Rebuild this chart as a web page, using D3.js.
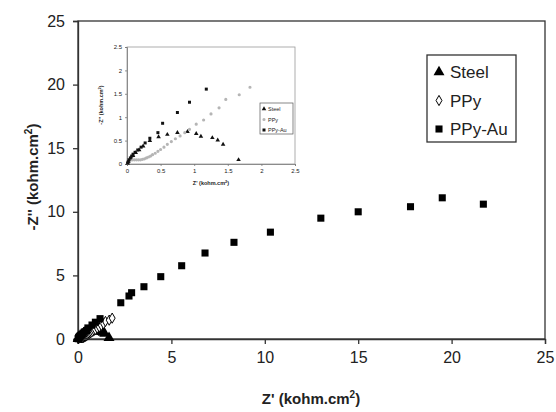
<!DOCTYPE html>
<html>
<head>
<meta charset="utf-8">
<script src="https://cdn.jsdelivr.net/npm/d3@7"></script>
<style>
  body { margin: 0; background: #fff; }
  text { font-family: "Liberation Sans", Arial, sans-serif; fill: #222; }
</style>
</head>
<body>
<div id="chart"></div>
<script>
// Nyquist data, Z' and -Z'' in kohm.cm2
const steelZre = [0.01, 0.02, 0.04, 0.06, 0.09, 0.13, 0.18, 0.24, 0.34, 0.47, 0.60, 0.75, 0.90, 1.03, 1.10, 1.27, 1.35, 1.43, 1.66];
const steelZim = [0.02, 0.05, 0.09, 0.13, 0.18, 0.24, 0.30, 0.38, 0.50, 0.58, 0.63, 0.67, 0.69, 0.65, 0.59, 0.56, 0.51, 0.42, 0.09];

const ppyZre = [0.01, 0.02, 0.04, 0.06, 0.08, 0.11, 0.14, 0.17, 0.20, 0.23, 0.26, 0.29, 0.32, 0.35, 0.38, 0.42, 0.46, 0.50, 0.55, 0.60, 0.66, 0.72, 0.79, 0.86, 0.93, 1.03, 1.14, 1.25, 1.37, 1.47, 1.67, 1.83];
const ppyZim = [0.02, 0.05, 0.08, 0.09, 0.09, 0.09, 0.09, 0.09, 0.09, 0.10, 0.11, 0.13, 0.15, 0.17, 0.20, 0.23, 0.27, 0.31, 0.36, 0.42, 0.48, 0.54, 0.60, 0.67, 0.74, 0.85, 0.94, 1.07, 1.20, 1.38, 1.48, 1.64];

const ppyAuZre = [0.01, 0.02, 0.03, 0.05, 0.07, 0.09, 0.12, 0.16, 0.21, 0.27, 0.34, 0.46, 0.53, 0.75, 0.93, 1.18, 2.29, 2.73, 2.87, 3.53, 4.43, 5.55, 6.80, 8.35, 10.3, 13.0, 15.0, 17.8, 19.5, 21.7];
const ppyAuZim = [0.02, 0.05, 0.09, 0.13, 0.17, 0.21, 0.25, 0.30, 0.36, 0.45, 0.55, 0.67, 0.87, 1.10, 1.32, 1.60, 2.85, 3.38, 3.64, 4.11, 4.90, 5.76, 6.76, 7.60, 8.40, 9.50, 10.0, 10.4, 11.1, 10.6];

const seriesNames = ["Steel", "PPy", "PPy-Au"];
const mainTicks = [0, 5, 10, 15, 20, 25];
const insetTicks = [0, 0.5, 1, 1.5, 2, 2.5];

const W = 556, H = 412;
const svg = d3.select("#chart").append("svg").attr("width", W).attr("height", H);

function zip(xs, ys) { return xs.map((x, i) => ({x: x, y: ys[i]})); }
const series = [
  {name: seriesNames[0], pts: zip(steelZre, steelZim), shape: d3.symbolTriangle},
  {name: seriesNames[1], pts: zip(ppyZre, ppyZim), shape: d3.symbolDiamond},
  {name: seriesNames[2], pts: zip(ppyAuZre, ppyAuZim), shape: d3.symbolSquare}
];

// ---- main plot ----
const x = d3.scaleLinear().domain([0, 25]).range([78, 545]);
const y = d3.scaleLinear().domain([0, 25]).range([339, 21]);

const main = svg.append("g");
main.append("rect").attr("x", 78).attr("y", 21).attr("width", 545 - 78).attr("height", 339 - 21)
  .attr("fill", "none").attr("stroke", "#333").attr("stroke-width", 1.3);

const xAxis = main.append("g").attr("transform", "translate(0,339)")
  .call(d3.axisBottom(x).tickValues(mainTicks).tickSize(5).tickPadding(8));
const yAxis = main.append("g").attr("transform", "translate(78,0)")
  .call(d3.axisLeft(y).tickValues(mainTicks).tickSize(5).tickPadding(8));
[xAxis, yAxis].forEach(a => {
  a.selectAll("path, line").attr("stroke", "#333").attr("stroke-width", 1.3);
  a.selectAll("text").style("font-size", "16px").attr("fill", "#333");
});

main.append("text").attr("x", 311).attr("y", 404).attr("text-anchor", "middle")
  .style("font-size", "15px").style("font-weight", "bold")
  .html("Z' (kohm.cm<tspan dy='-6' font-size='10px'>2</tspan><tspan dy='6'>)</tspan>");
main.append("text").attr("transform", "translate(38,177) rotate(-90)").attr("text-anchor", "middle")
  .style("font-size", "15px").style("font-weight", "bold")
  .html("-Z'' (kohm.cm<tspan dy='-6' font-size='10px'>2</tspan><tspan dy='6'>)</tspan>");

const mainStyle = [
  {size: 52, fill: "#000", stroke: "none"},
  {size: 30, fill: "#fff", stroke: "#000"},
  {size: 50, fill: "#000", stroke: "none"}
];
series.forEach((s, i) => {
  main.append("g").selectAll("path").data(s.pts).join("path")
    .attr("d", d3.symbol().type(s.shape).size(mainStyle[i].size))
    .attr("transform", d => `translate(${x(d.x)},${y(d.y)})`)
    .attr("fill", mainStyle[i].fill).attr("stroke", mainStyle[i].stroke).attr("stroke-width", 1);
});

// main legend
const leg = main.append("g");
leg.append("rect").attr("x", 427).attr("y", 55).attr("width", 89).attr("height", 87)
  .attr("fill", "#fff").attr("stroke", "#333").attr("stroke-width", 1.3);
series.forEach((s, i) => {
  const ly = 72 + i * 28.5;
  leg.append("path").attr("d", d3.symbol().type(s.shape).size(mainStyle[i].size))
    .attr("transform", `translate(439,${ly})`)
    .attr("fill", mainStyle[i].fill).attr("stroke", mainStyle[i].stroke);
  leg.append("text").attr("x", 450).attr("y", ly + 6).style("font-size", "17px").text(s.name);
});

// ---- inset ----
const ix = d3.scaleLinear().domain([0, 2.5]).range([127, 295]);
const iy = d3.scaleLinear().domain([0, 2.5]).range([164, 47]);
const inset = svg.append("g");
inset.append("rect").attr("x", 127).attr("y", 47).attr("width", 295 - 127).attr("height", 164 - 47)
  .attr("fill", "none").attr("stroke", "#999").attr("stroke-width", 0.8);
const ixAxis = inset.append("g").attr("transform", "translate(0,164)")
  .call(d3.axisBottom(ix).tickValues(insetTicks).tickFormat(d3.format("")).tickSize(2).tickPadding(3));
const iyAxis = inset.append("g").attr("transform", "translate(127,0)")
  .call(d3.axisLeft(iy).tickValues(insetTicks).tickFormat(d3.format("")).tickSize(2).tickPadding(3));
[ixAxis, iyAxis].forEach(a => {
  a.selectAll("path, line").attr("stroke", "#777").attr("stroke-width", 0.8);
  a.selectAll("text").style("font-size", "6px").attr("fill", "#444");
});
inset.append("text").attr("x", 211).attr("y", 185).attr("text-anchor", "middle")
  .style("font-size", "5.5px").style("font-weight", "bold")
  .html("Z' (kohm.cm<tspan dy='-2' font-size='4px'>2</tspan><tspan dy='2'>)</tspan>");
inset.append("text").attr("transform", "translate(103,105) rotate(-90)").attr("text-anchor", "middle")
  .style("font-size", "5.5px").style("font-weight", "bold")
  .html("-Z'' (kohm.cm<tspan dy='-2' font-size='4px'>2</tspan><tspan dy='2'>)</tspan>");

const insetStyle = [
  {size: 9, fill: "#111"},
  {size: 8, fill: "#b5b5b5"},
  {size: 9, fill: "#111"}
];
series.forEach((s, i) => {
  inset.append("g").selectAll("path").data(s.pts.filter(d => d.x <= 2.5 && d.y <= 2.5)).join("path")
    .attr("d", d3.symbol().type(i === 1 ? d3.symbolCircle : s.shape).size(insetStyle[i].size))
    .attr("transform", d => `translate(${ix(d.x)},${iy(d.y)})`)
    .attr("fill", insetStyle[i].fill);
});

const ileg = inset.append("g");
ileg.append("rect").attr("x", 260).attr("y", 103).attr("width", 33).attr("height", 31)
  .attr("fill", "#fff").attr("stroke", "#555").attr("stroke-width", 0.7);
series.forEach((s, i) => {
  const ly = 109 + i * 10.5;
  ileg.append("path").attr("d", d3.symbol().type(i === 1 ? d3.symbolCircle : s.shape).size(insetStyle[i].size))
    .attr("transform", `translate(264,${ly})`).attr("fill", insetStyle[i].fill);
  ileg.append("text").attr("x", 268).attr("y", ly + 2).style("font-size", "5.5px").attr("fill", "#444").text(s.name);
});
</script>
</body>
</html>
